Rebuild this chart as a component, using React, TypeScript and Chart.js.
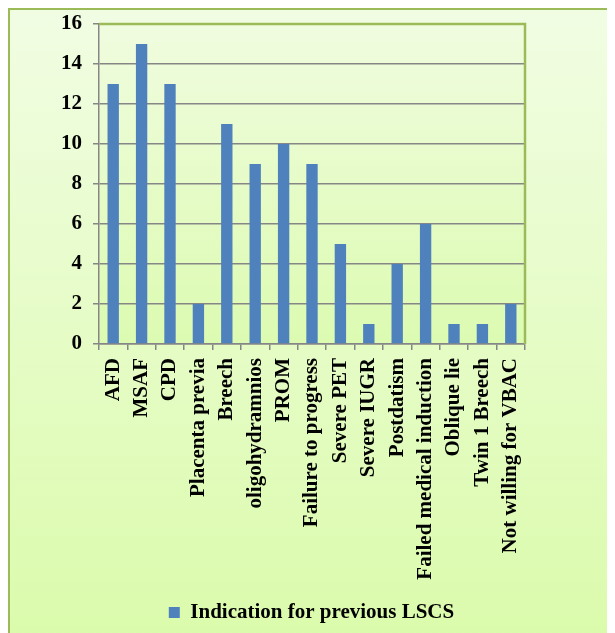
import React, { useEffect, useRef } from "react";
import { Chart, registerables } from "chart.js";

Chart.register(...registerables);

const categories = [
  "AFD",
  "MSAF",
  "CPD",
  "Placenta previa",
  "Breech",
  "oligohydramnios",
  "PROM",
  "Failure to progress",
  "Severe PET",
  "Severe IUGR",
  "Postdatism",
  "Failed medical induction",
  "Oblique lie",
  "Twin 1 Breech",
  "Not willing for VBAC",
];
const values = [13, 15, 13, 2, 11, 9, 10, 9, 5, 1, 4, 6, 1, 1, 2];
const seriesLabel = "Indication for previous LSCS";
const yTicks = [0, 2, 4, 6, 8, 10, 12, 14, 16];

const FONT = "'Liberation Serif', 'Times New Roman', serif";
const W = 607;
const H = 625;

const bgPlugin = {
  id: "bgPlugin",
  beforeDraw(chart: any) {
    const { ctx, chartArea } = chart;
    ctx.save();
    let g = ctx.createLinearGradient(0, 0, 0, H);
    g.addColorStop(0, "#f1fde3");
    g.addColorStop(1, "#dbfbac");
    ctx.fillStyle = g;
    ctx.fillRect(0, 0, W, H);
    ctx.strokeStyle = "#9bbb59";
    ctx.lineWidth = 2;
    ctx.strokeRect(1, 1, W + 10, H + 10);
    const { left, top, right, bottom } = chartArea;
    g = ctx.createLinearGradient(0, top, 0, bottom);
    g.addColorStop(0, "#f0fcdf");
    g.addColorStop(1, "#dcfbb1");
    ctx.fillStyle = g;
    ctx.fillRect(left, top, right - left, bottom - top);
    ctx.restore();
  },
  beforeDatasetsDraw(chart: any) {
    const { ctx, chartArea } = chart;
    const { left, top, right } = chartArea;
    ctx.save();
    ctx.strokeStyle = "#9bbb59";
    ctx.lineWidth = 2.5;
    ctx.beginPath();
    ctx.moveTo(left, top);
    ctx.lineTo(right, top);
    ctx.lineTo(right, chartArea.bottom);
    ctx.stroke();
    ctx.restore();
  },
};

export default function App() {
  const ref = useRef<HTMLCanvasElement>(null);
  useEffect(() => {
    if (!ref.current) return;
    const chart = new Chart(ref.current, {
      type: "bar",
      data: {
        labels: categories,
        datasets: [
          {
            label: seriesLabel,
            data: values,
            backgroundColor: "#4f81bd",
            borderWidth: 0,
            barPercentage: 0.4,
            categoryPercentage: 1,
            yAxisID: "y",
          },
        ],
      },
      options: {
        animation: false,
        responsive: false,
        layout: { padding: { top: 16, left: 0, right: 0, bottom: 0 } },
        plugins: {
          tooltip: { enabled: false },
          legend: {
            position: "bottom",
            labels: {
              color: "#000",
              font: { family: FONT, size: 21, weight: "bold" },
              boxWidth: 11,
              boxHeight: 11,
              padding: 6,
            },
          },
        },
        scales: {
          x: {
            grid: {
              drawOnChartArea: false,
              drawTicks: true,
              tickLength: 6,
              color: "#868686",
              lineWidth: 1.5,
              offset: true,
            },
            border: { color: "#868686", width: 1.5 },
            ticks: {
              color: "#000",
              font: { family: FONT, size: 21, weight: "bold" },
              maxRotation: 90,
              minRotation: 90,
              autoSkip: false,
              padding: 8,
            },
            afterFit(scale: any) {
              scale.height = 252;
              scale.paddingLeft = 0;
              scale.paddingRight = 0;
            },
          },
          y: {
            min: 0,
            max: 16,
            afterBuildTicks(scale: any) {
              scale.ticks = yTicks.map((v) => ({ value: v }));
            },
            grid: {
              color: "#868686",
              lineWidth: 1.5,
              tickLength: 6,
            },
            border: { color: "#868686", width: 1.5 },
            ticks: {
              color: "#000",
              font: { family: FONT, size: 21, weight: "bold" },
              padding: 11,
            },
            afterFit(scale: any) {
              scale.width = 91;
              scale.paddingTop = 0;
              scale.paddingBottom = 0;
            },
          },
          y2: {
            position: "right",
            display: true,
            grid: { display: false },
            border: { display: false },
            ticks: { display: false },
            afterFit(scale: any) {
              scale.width = 90;
              scale.paddingTop = 0;
              scale.paddingBottom = 0;
            },
          },
        },
      },
      plugins: [bgPlugin],
    });
    return () => chart.destroy();
  }, []);
  return (
    <div style={{ width: W, height: H }}>
      <canvas ref={ref} width={W} height={H} style={{ display: "block" }} />
    </div>
  );
}
